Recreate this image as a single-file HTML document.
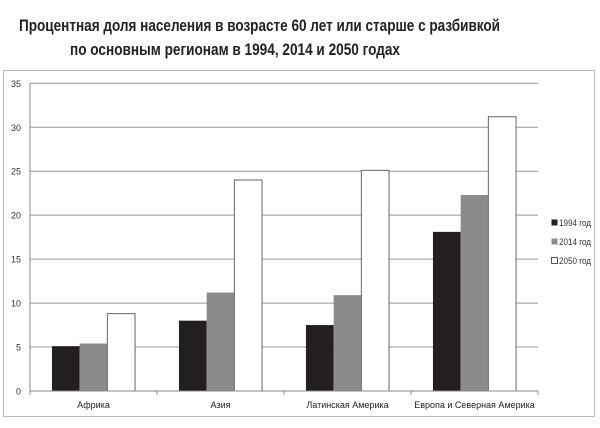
<!DOCTYPE html>
<html><head><meta charset="utf-8"><style>
html,body{margin:0;padding:0;background:#fff;}
svg{display:block;font-family:"Liberation Sans",sans-serif;}
</style></head><body>
<svg id="chart" width="600" height="428" viewBox="0 0 600 428">
<text x="19" y="31" font-size="17" font-weight="bold" fill="#222" textLength="481" lengthAdjust="spacingAndGlyphs">Процентная доля населения в возрасте 60 лет или старше с разбивкой</text>
<text x="70" y="55" font-size="17" font-weight="bold" fill="#222" textLength="330" lengthAdjust="spacingAndGlyphs">по основным регионам в 1994, 2014 и 2050 годах</text>
<rect x="3.5" y="70.5" width="591" height="346" fill="none" stroke="#bbb" stroke-width="1"/>
<g id="grid"></g><g id="bars"></g><g id="axes"></g><g id="legend"></g>
</svg>
<script>
const categories = ["Африка","Азия","Латинская Америка","Европа и Северная Америка"];
const series1994 = [5.1, 8.0, 7.5, 18.1];
const series2014 = [5.4, 11.2, 10.9, 22.3];
const series2050 = [8.8, 24.0, 25.1, 31.2];
const seriesNames = ["1994 год","2014 год","2050 год"];
const yTicks = [0,5,10,15,20,25,30,35];

const NS="http://www.w3.org/2000/svg";
const X0=30, X1=538, Y0=391, Y1=83.3, YMAX=35;
const y = v => Y0 - (v/YMAX)*(Y0-Y1);
const catW = (X1-X0)/categories.length;
const barW = 27.7;
const xBar = (ci, si) => X0 + ci*catW + (catW-3*barW)/2 + si*barW;
function mk(tag, attrs, parent){const e=document.createElementNS(NS,tag);for(const k in attrs)e.setAttribute(k,attrs[k]);parent.appendChild(e);return e;}
const grid=document.getElementById('grid'), bars=document.getElementById('bars'), axes=document.getElementById('axes'), legend=document.getElementById('legend');

yTicks.forEach(t=>{
  if(t>0){const l=mk('line',{x1:X0,x2:X1,y1:y(t),y2:y(t),stroke:'#999','stroke-width':1},grid);
  
  }
  const tx=mk('text',{x:21,y:y(t)+3.5,'font-size':9,'text-anchor':'end',fill:'#333'},axes);
  tx.textContent=t;
  
  
});
const ya=mk('line',{x1:X0,x2:X0,y1:Y1,y2:Y0,stroke:'#888'},axes);


const xa=mk('line',{x1:X0,x2:X1,y1:Y0,y2:Y0,stroke:'#888'},axes);


for(let i=0;i<=categories.length;i++){
  const tk=mk('line',{x1:X0+i*catW,x2:X0+i*catW,y1:Y0,y2:Y0+4,stroke:'#888'},axes);
  
  
}
categories.forEach((c,i)=>{
  const tx=mk('text',{x:X0+i*catW+catW/2,y:408,'font-size':9,'text-anchor':'middle',fill:'#222'},axes);
  tx.textContent=c;
  
  
});
const allSeries=[series1994,series2014,series2050];
const fills=['#231f20','#8a8b8d','#ffffff'];
allSeries.forEach((s,si)=>{
  s.forEach((v,ci)=>{
    const r=mk('rect',{x:xBar(ci,si),y:y(v),width:barW,height:Y0-y(v),fill:fills[si],stroke:si===2?'#666':'none','stroke-width':1},bars);
    
    
  });
});
seriesNames.forEach((n,i)=>{
  const ly=219+i*19;
  const sq=mk('rect',{x:551.5,y:ly+0.5,width:6,height:6,fill:fills[i],stroke:i===2?'#555':'none'},legend);
  
  
  const tx=mk('text',{x:559,y:ly+7,'font-size':9,fill:'#333',textLength:32,lengthAdjust:'spacingAndGlyphs'},legend);
  tx.textContent=n;
  
  
});
</script>
</body></html>
